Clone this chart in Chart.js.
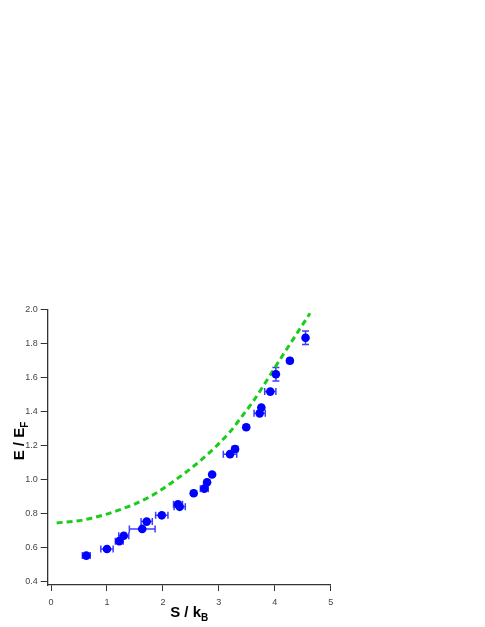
<!DOCTYPE html>
<html>
<head>
<meta charset="utf-8">
<script src="https://cdn.jsdelivr.net/npm/chart.js@4/dist/chart.umd.min.js"></script>
<style>
html,body{margin:0;padding:0;background:#fff;}
canvas{display:block;}
</style>
</head>
<body>
<canvas id="c" width="485" height="627"></canvas>
<script>
// Measured data: entropy S/kB vs energy E/EF
const sVals  = [0.63, 1.00, 1.22, 1.30, 1.63, 1.71, 1.98, 2.27, 2.30, 2.55, 2.74, 2.79, 2.88, 3.20, 3.29, 3.49, 3.73, 3.76, 3.92, 4.02, 4.27, 4.55];
const eVals  = [0.553, 0.592, 0.638, 0.670, 0.710, 0.753, 0.790, 0.855, 0.840, 0.920, 0.947, 0.985, 1.030, 1.150, 1.180, 1.308, 1.390, 1.424, 1.518, 1.620, 1.700, 1.835];
const sErr   = [0.07, 0.11, 0.07, 0.09, 0.23, 0.10, 0.11, 0.08, 0.10, 0.03, 0.07, 0.02, 0.00, 0.12, 0.05, 0.03, 0.10, 0.03, 0.10, 0.03, 0.04, 0.03];
const eErr   = [0, 0, 0, 0, 0, 0, 0, 0, 0, 0.012, 0, 0, 0, 0, 0, 0.012, 0, 0, 0, 0.04, 0.012, 0.04];
// Theory curve (green dashed)
const curveS = [0.10, 0.58, 1.17, 1.77, 2.18, 2.72, 3.20, 3.43, 3.61, 4.09, 4.63];
const curveE = [0.745, 0.763, 0.816, 0.900, 0.988, 1.126, 1.282, 1.380, 1.459, 1.705, 1.979];
// Ticks
const xTicks = [0, 1, 2, 3, 4, 5];
const yTicks = [0.4, 0.6, 0.8, 1.0, 1.2, 1.4, 1.6, 1.8, 2.0];

const points = sVals.map((s, i) => ({x: s, y: eVals[i]}));
const curve = curveS.map((s, i) => ({x: s, y: curveE[i]}));

const errorBars = {
  id: 'errorBars',
  beforeDatasetsDraw(chart) {
    const ctx = chart.ctx, xs = chart.scales.x, ys = chart.scales.y;
    ctx.save();
    ctx.strokeStyle = 'rgba(40,40,255,0.9)';
    ctx.lineWidth = 1.5;
    const cap = 3.5;
    sVals.forEach((s, i) => {
      const px = xs.getPixelForValue(s), py = ys.getPixelForValue(eVals[i]);
      if (sErr[i] > 0) {
        const x1 = xs.getPixelForValue(s - sErr[i]), x2 = xs.getPixelForValue(s + sErr[i]);
        ctx.beginPath();
        ctx.moveTo(x1, py); ctx.lineTo(x2, py);
        ctx.moveTo(x1, py - cap); ctx.lineTo(x1, py + cap);
        ctx.moveTo(x2, py - cap); ctx.lineTo(x2, py + cap);
        ctx.stroke();
      }
      if (eErr[i] > 0) {
        const y1 = ys.getPixelForValue(eVals[i] - eErr[i]), y2 = ys.getPixelForValue(eVals[i] + eErr[i]);
        ctx.beginPath();
        ctx.moveTo(px, y1); ctx.lineTo(px, y2);
        ctx.moveTo(px - cap, y1); ctx.lineTo(px + cap, y1);
        ctx.moveTo(px - cap, y2); ctx.lineTo(px + cap, y2);
        ctx.stroke();
      }
    });
    ctx.restore();
  }
};

const axisTitles = {
  id: 'axisTitles',
  afterDraw(chart) {
    const ctx = chart.ctx;
    ctx.save();
    ctx.fillStyle = '#000';
    ctx.textBaseline = 'alphabetic';
    // x title: S / kB
    const main = 'bold 15px "Liberation Sans", Arial, sans-serif';
    const sub = 'bold 10px "Liberation Sans", Arial, sans-serif';
    ctx.font = main;
    const t1 = 'S / k';
    const w1 = ctx.measureText(t1).width;
    ctx.font = sub;
    const w2 = ctx.measureText('B').width;
    const cx = (chart.chartArea.left + chart.chartArea.right) / 2;
    let x0 = cx - (w1 + w2) / 2;
    ctx.font = main;
    ctx.textAlign = 'left';
    ctx.fillText(t1, x0, 617);
    ctx.font = sub;
    ctx.fillText('B', x0 + w1, 621);
    // y title: E / EF rotated
    ctx.translate(24, 0);
    ctx.rotate(-Math.PI / 2);
    ctx.font = main;
    const t3 = 'E / E';
    const w3 = ctx.measureText(t3).width;
    ctx.font = sub;
    const w4 = ctx.measureText('F').width;
    const cy = 441;
    const start = -(cy) - (w3 + w4) / 2;
    ctx.font = main;
    ctx.fillText(t3, start, 0);
    ctx.font = sub;
    ctx.fillText('F', start + w3, 4);
    ctx.restore();
  }
};

new Chart(document.getElementById('c'), {
  type: 'scatter',
  data: {
    datasets: [
      {
        label: 'data',
        data: points,
        backgroundColor: '#0000ff',
        borderColor: '#0000ff',
        pointRadius: 4.3,
        pointBorderWidth: 0,
        showLine: false,
        order: 1
      },
      {
        label: 'theory',
        data: curve,
        showLine: true,
        borderColor: '#1ccc1c',
        borderWidth: 3,
        borderDash: [6, 4],
        pointRadius: 0,
        fill: false,
        cubicInterpolationMode: 'monotone',
        order: 2
      }
    ]
  },
  options: {
    responsive: false,
    animation: false,
    devicePixelRatio: 1,
    layout: {padding: {left: 0, top: 309.7, right: 154.3, bottom: 0}},
    plugins: {legend: {display: false}, tooltip: {enabled: false}},
    scales: {
      x: {
        type: 'linear',
        min: -0.06, max: 5,
        afterFit(s) { s.height = 42; },
        afterBuildTicks(s) { s.ticks = xTicks.map(v => ({value: v})); },
        ticks: {
          color: '#444',
          font: {size: 9, family: '"Liberation Sans", Arial, sans-serif'},
          padding: 6,
          maxRotation: 0,
          callback: v => String(v)
        },
        grid: {display: true, drawOnChartArea: false, drawTicks: true, tickLength: 6, color: '#333', lineWidth: 1},
        border: {display: true, color: '#333', width: 1.3}
      },
      y: {
        type: 'linear',
        min: 0.38, max: 2.0,
        afterFit(s) { s.width = 47.7; },
        afterBuildTicks(s) { s.ticks = yTicks.map(v => ({value: v})); },
        ticks: {
          color: '#444',
          font: {size: 9, family: '"Liberation Sans", Arial, sans-serif'},
          padding: 3,
          callback: v => Number(v).toFixed(1)
        },
        grid: {display: true, drawOnChartArea: false, drawTicks: true, tickLength: 7, color: '#333', lineWidth: 1},
        border: {display: true, color: '#333', width: 1.3}
      }
    }
  },
  plugins: [errorBars, axisTitles]
});
</script>
</body>
</html>
